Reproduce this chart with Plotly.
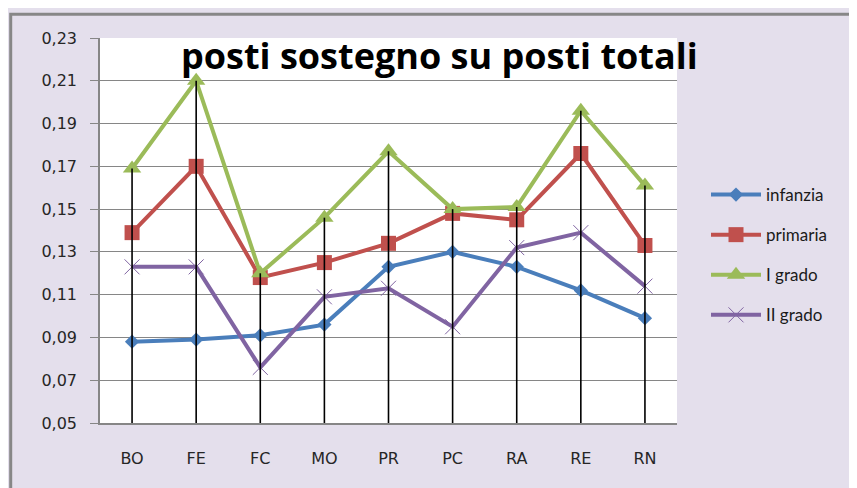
import plotly.graph_objects as go

categories = ["BO", "FE", "FC", "MO", "PR", "PC", "RA", "RE", "RN"]
infanzia = [0.088, 0.089, 0.091, 0.096, 0.123, 0.130, 0.123, 0.112, 0.099]
primaria = [0.139, 0.170, 0.118, 0.125, 0.134, 0.148, 0.145, 0.176, 0.133]
i_grado = [0.169, 0.210, 0.120, 0.146, 0.177, 0.150, 0.151, 0.196, 0.161]
ii_grado = [0.123, 0.123, 0.076, 0.109, 0.113, 0.095, 0.132, 0.139, 0.114]
y_ticks = [0.05, 0.07, 0.09, 0.11, 0.13, 0.15, 0.17, 0.19, 0.21, 0.23]

OFF = 8  # page body margin
W, H = 857 - OFF, 488 - OFF
# plot area in screen pixels: x 100..677, y 38..423
L, T = 100 - OFF, 38 - OFF
R = W - (677 - OFF)
B = H - (423 - OFF)
pw, ph = W - L - R, H - T - B

def px_x(x):
    return (x - OFF - L) / pw

def px_y(y):
    return (H - B - (y - OFF)) / ph

fig = go.Figure()

series = [
    ("infanzia", infanzia, "#4A7EBB", "diamond", 11, dict(width=0)),
    ("primaria", primaria, "#C0504D", "square", 15, dict(width=0)),
    ("I grado", i_grado, "#9BBB59", "triangle-up", 16, dict(width=0)),
    ("II grado", ii_grado, "#8064A2", "x-thin-open", 15, dict(width=1, color="#8064A2")),
]

for i, (name, vals, col, sym, sz, mline) in enumerate(series):
    fig.add_trace(go.Scatter(
        x=categories, y=vals, name=name, mode="lines+markers",
        line=dict(color=col, width=4),
        marker=dict(symbol=sym, size=sz, color=col, line=mline),
        legendgroup=f"g{i}",
    ))

# drop lines from the highest point of each category down to the axis
dx, dy = [], []
for j, c in enumerate(categories):
    top = max(infanzia[j], primaria[j], i_grado[j], ii_grado[j])
    dx += [c, c, None]
    dy += [y_ticks[0], top, None]
fig.add_trace(go.Scatter(x=dx, y=dy, mode="lines", line=dict(color="black", width=1.6),
                         showlegend=False, hoverinfo="skip"))

fig.update_layout(
    width=W, height=H,
    margin=dict(l=L, r=R, t=T, b=B),
    paper_bgcolor="#E4DFEC",
    plot_bgcolor="white",
    separators=",.",
    font=dict(family="DejaVu Sans", size=15, color="#262626"),
    showlegend=True,
    legend=dict(
        x=px_x(706), y=px_y(177), xanchor="left", yanchor="top",
        bgcolor="rgba(0,0,0,0)",
        font=dict(family="Lato", size=17, color="#1a1a1a"),
        traceorder="grouped", tracegroupgap=15,
        itemwidth=50,
    ),
    xaxis=dict(
        type="category", range=[-0.5, 8.5],
        showgrid=False, showline=True, linecolor="#868686", linewidth=1.5,
        ticks="", ticklabelstandoff=20,
        tickfont=dict(family="DejaVu Sans", size=16, color="#262626"),
        zeroline=False,
    ),
    yaxis=dict(
        range=[0.05, 0.23], tickvals=y_ticks, tickformat=".2f",
        showgrid=True, gridcolor="#868686", gridwidth=1.2,
        showline=True, linecolor="#868686", linewidth=1.5,
        ticks="outside", ticklen=8, tickcolor="#868686", tickwidth=1.2,
        ticklabelstandoff=10,
        tickfont=dict(family="DejaVu Sans", size=16, color="#262626"),
        zeroline=False,
    ),
    annotations=[dict(
        text="<b>posti sostegno su posti totali</b>",
        x=px_x(439.5), y=px_y(55), xref="paper", yref="paper",
        xanchor="center", yanchor="middle", showarrow=False,
        font=dict(family="Open Sans", size=36, color="black"),
    )],
    shapes=[dict(
        type="rect", xref="paper", yref="paper",
        x0=px_x(10.7), y0=px_y(488 + 40), x1=px_x(857 + 40), y1=px_y(14.3),
        line=dict(color="#878787", width=3), layer="above",
    )],
)

fig.write_html("out.html")
